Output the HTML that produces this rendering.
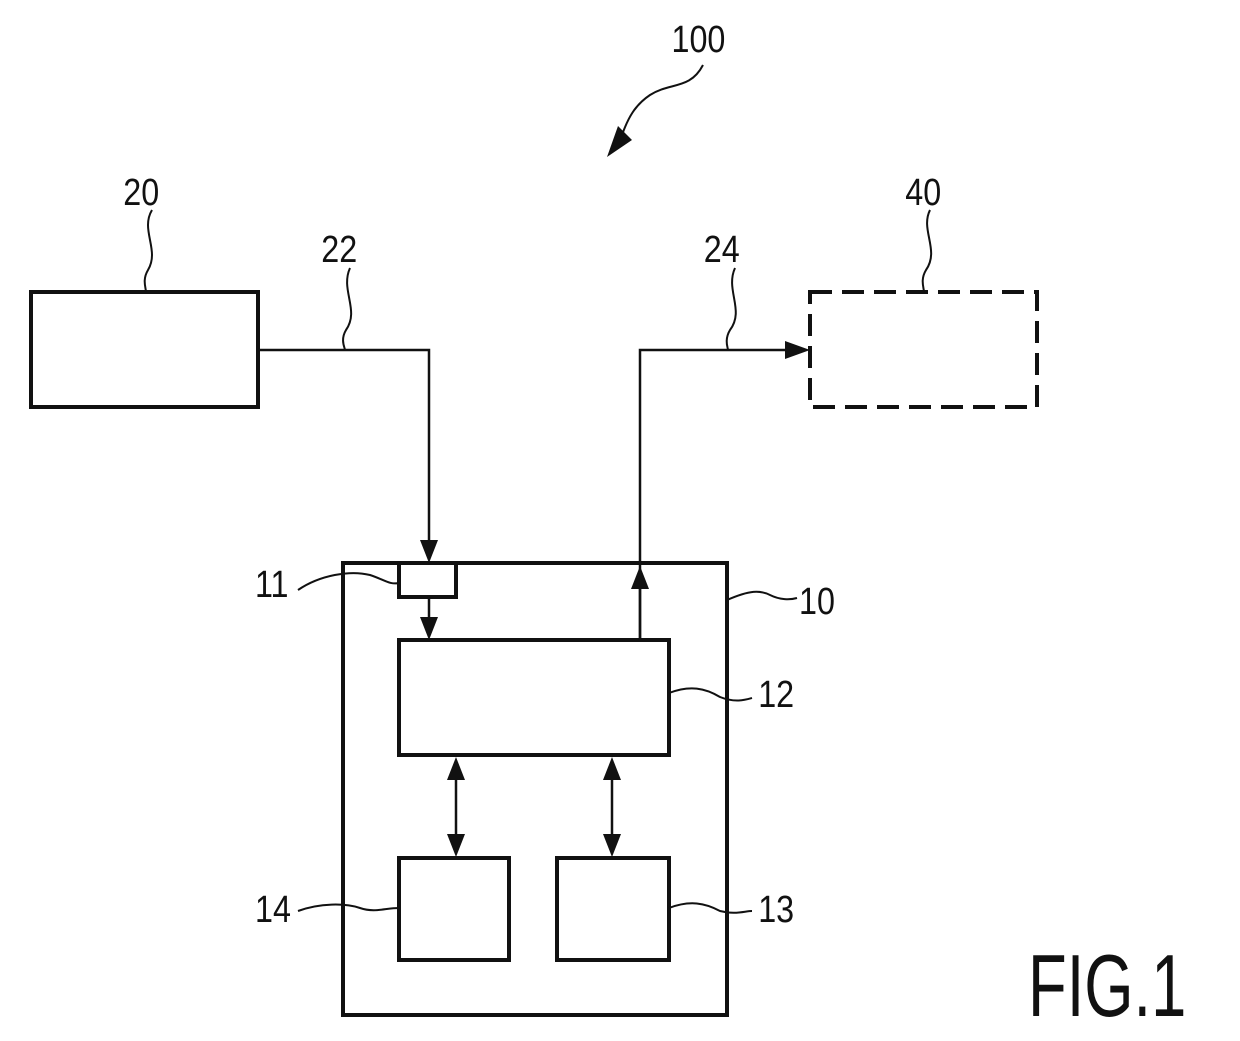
<!DOCTYPE html>
<html><head><meta charset="utf-8"><style>
html,body{margin:0;padding:0;background:#fff;}
svg{display:block;}
text{font-family:"Liberation Sans",sans-serif;fill:#111;}
</style></head><body>
<svg width="1240" height="1041" viewBox="0 0 1240 1041" xmlns="http://www.w3.org/2000/svg">
<defs>
<marker id="ah" markerWidth="10" markerHeight="10" refX="9" refY="5" orient="auto" markerUnits="userSpaceOnUse" viewBox="0 0 10 10">
<path d="M0,0 L10,5 L0,10 z" fill="#111"/>
</marker>
</defs>
<g fill="none" stroke="#111" stroke-width="4">
<rect x="31" y="292" width="227" height="115"/>
<rect x="810" y="292" width="227" height="115" stroke-dasharray="22,10"/>
<rect x="343" y="563" width="384" height="452"/>
<rect x="399" y="563" width="57" height="34"/>
<rect x="399" y="640" width="270" height="115"/>
<rect x="399" y="858" width="110" height="102"/>
<rect x="557" y="858" width="112" height="102"/>
</g>
<g fill="none" stroke="#111" stroke-width="2.5">
<polyline points="258,350 429,350 429,545"/>
<polyline points="640,640 640,350 790,350"/>
<line x1="640" y1="640" x2="640" y2="585"/>
<line x1="429" y1="597" x2="429" y2="620"/>
<line x1="456" y1="775" x2="456" y2="838"/>
<line x1="612" y1="775" x2="612" y2="838"/>
</g>
<g fill="#111">
<polygon points="420,540 438,540 429,563"/>
<polygon points="420,617 438,617 429,640"/>
<polygon points="631,589 649,589 640,566"/>
<polygon points="785,341 785,359 810,350"/>
<polygon points="447,780 465,780 456,757"/>
<polygon points="447,834 465,834 456,857"/>
<polygon points="603,780 621,780 612,757"/>
<polygon points="603,834 621,834 612,857"/>
<polygon points="607,157 618,126 632,140"/>
</g>
<g fill="none" stroke="#111" stroke-width="2">
<path d="M703,65 C690,90 670,82 650,95 C635,105 628,118 622,135"/>
<path d="M152,210 C140,230 160,250 148,270 C142,280 146,288 146,292"/>
<path d="M350,268 C340,290 360,310 346,330 C340,340 345,348 345,350"/>
<path d="M735,268 C725,290 745,310 730,330 C724,340 728,348 728,350"/>
<path d="M930,210 C920,230 940,250 926,270 C920,280 924,288 924,292"/>
<path d="M298,590 C320,575 350,570 370,575 C385,580 390,585 399,583"/>
<path d="M727,600 C750,590 760,590 770,595 C780,600 790,600 797,598"/>
<path d="M669,693 C690,685 705,688 720,697 C735,703 745,700 752,698"/>
<path d="M298,911 C320,903 345,903 360,908 C375,913 385,908 399,908"/>
<path d="M669,908 C690,900 705,903 720,911 C735,915 745,911 752,911"/>
</g>
<g font-size="38" transform="scale(0.85,1)">
<text x="790" y="52">100</text>
<text x="145" y="205">20</text>
<text x="378" y="262">22</text>
<text x="828" y="262">24</text>
<text x="1065" y="205">40</text>
<text x="300" y="597">11</text>
<text x="940" y="614">10</text>
<text x="892" y="707">12</text>
<text x="300" y="922">14</text>
<text x="892" y="922">13</text>
</g>
<text font-size="88" transform="translate(1028,1016) scale(0.72,1)">FIG.1</text>
</svg>
</body></html>
